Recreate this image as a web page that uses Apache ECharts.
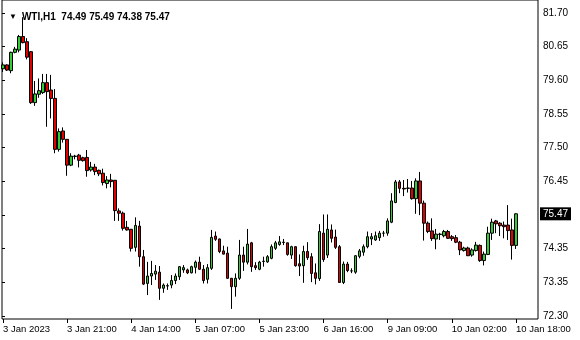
<!DOCTYPE html>
<html><head><meta charset="utf-8">
<script src="https://cdn.jsdelivr.net/npm/echarts@6/dist/echarts.min.js"></script>
<style>html,body{margin:0;padding:0;background:#fff}#c{width:580px;height:340px}</style>
</head><body><div id="c"></div>
<script>
const symbolName = 'WTI,H1';
const opens = [79.97,80.09,79.91,80.48,80.55,80.97,80.81,80.50,78.92,79.18,79.23,79.54,79.31,79.05,77.47,78.04,77.78,76.98,77.26,77.29,77.21,77.22,76.83,76.92,76.82,76.73,76.41,76.52,76.51,75.56,75.49,75.05,74.99,74.43,75.09,74.14,73.31,73.54,73.60,73.66,73.16,73.23,73.26,73.40,73.52,73.73,73.73,73.64,73.81,73.97,73.75,73.44,73.78,74.78,74.69,74.32,74.25,73.47,73.21,73.47,74.19,73.97,74.57,73.86,73.75,73.99,73.98,74.09,74.40,74.52,74.58,74.57,74.19,74.45,73.92,73.86,74.30,74.14,73.64,73.46,74.87,74.19,74.97,74.75,74.45,73.34,73.91,73.70,73.66,74.15,74.28,74.45,74.69,74.66,74.73,74.87,74.87,75.21,75.82,76.46,76.26,76.26,76.27,75.94,76.49,75.80,75.18,74.94,74.69,74.83,74.79,74.92,74.76,74.73,74.59,74.33,74.41,74.19,74.33,74.49,74.02,74.21,74.87,75.25,75.18,75.12,75.12,74.97,74.49];
const highs = [80.17,80.11,80.50,80.65,81.02,81.57,80.92,80.52,79.59,79.67,79.81,79.81,79.78,79.34,78.12,78.15,77.79,77.35,77.30,77.33,77.24,77.45,77.08,77.02,76.84,76.87,76.64,76.71,76.52,75.64,75.54,75.25,75.00,75.36,75.25,74.35,73.98,74.01,73.88,73.85,73.31,73.31,73.57,73.62,73.85,73.88,73.77,73.86,74.02,74.14,73.88,73.91,74.97,74.92,74.70,74.48,74.45,73.48,73.62,74.66,74.45,75.00,74.60,73.97,74.01,74.14,74.19,74.52,74.63,74.78,74.69,74.58,74.48,74.46,74.21,74.48,74.59,74.25,73.93,75.15,75.45,75.45,75.14,74.98,74.50,73.99,73.98,73.78,74.19,74.38,74.52,74.92,74.87,74.92,74.94,74.94,75.33,76.11,76.52,76.52,76.52,76.55,76.49,76.57,76.77,75.88,75.23,75.33,75.00,74.88,74.97,74.97,74.81,74.81,74.63,74.45,74.45,74.40,74.60,74.52,74.30,75.07,75.32,75.28,75.21,75.23,75.74,75.32,75.49];
const lows = [79.87,79.90,79.83,80.45,80.48,80.76,80.26,78.88,78.82,79.07,79.19,78.17,78.43,77.35,77.40,77.68,76.65,76.95,77.16,76.91,77.09,76.62,76.78,76.67,76.64,76.35,76.26,76.29,75.25,75.25,74.95,74.95,74.30,74.30,73.83,73.26,72.95,73.26,73.42,72.80,73.02,73.11,73.16,73.29,73.42,73.64,73.60,73.62,73.62,73.73,73.31,73.31,73.73,74.63,74.25,74.21,73.45,72.52,72.90,73.42,73.70,73.90,73.67,73.73,73.72,73.83,73.95,74.06,74.35,74.48,74.50,74.17,74.07,73.83,73.54,73.33,74.04,73.35,73.28,73.39,73.98,74.10,74.58,74.38,73.33,73.29,73.66,73.63,73.61,74.09,74.17,74.40,74.50,74.63,74.63,74.76,74.79,75.18,75.80,76.11,76.02,76.13,75.91,75.47,75.43,74.64,74.87,74.63,74.37,74.66,74.74,74.69,74.63,74.56,74.19,74.30,74.16,74.14,74.30,73.98,73.87,74.19,74.66,74.87,74.78,74.71,74.66,74.05,74.38];
const closes = [80.09,79.93,80.48,80.58,80.97,80.78,80.33,78.92,79.19,79.29,79.54,79.26,79.05,77.47,78.02,77.78,76.98,77.26,77.25,77.13,77.12,76.81,76.92,76.78,76.71,76.44,76.52,76.47,75.57,75.49,75.02,74.97,74.40,75.11,74.14,73.29,73.54,73.62,73.69,73.16,73.26,73.24,73.40,73.54,73.83,73.80,73.64,73.83,73.97,73.75,73.40,73.80,74.74,74.68,74.30,74.22,73.47,73.21,73.47,74.19,73.97,74.53,73.83,73.80,73.97,74.00,74.14,74.45,74.57,74.60,74.59,74.21,74.45,73.86,73.85,74.30,74.11,73.62,73.47,74.92,74.05,74.99,74.71,74.43,73.34,73.91,73.71,73.70,74.17,74.32,74.45,74.76,74.76,74.79,74.87,74.87,75.25,75.87,76.46,76.26,76.24,76.27,75.94,76.49,75.80,75.18,74.92,74.70,74.84,74.84,74.92,74.71,74.70,74.59,74.35,74.41,74.17,74.35,74.50,74.02,74.22,74.87,75.21,75.16,75.10,75.07,74.95,74.49,75.47];
const xLabelIdx = [0,16,32,48,64,80,96,112,128];
const xLabels = ['3 Jan 2023','3 Jan 21:00','4 Jan 14:00','5 Jan 07:00','5 Jan 23:00','6 Jan 16:00','9 Jan 09:00','10 Jan 02:00','10 Jan 18:00'];
const yTickLabels = ['72.30','73.35','74.35','','76.45','77.50','78.55','79.60','80.65','81.70'];
const yMin = 72.30, yMax = 81.70;
const padBars = 5;

const nBars = opens.length;
const cats = [];
for (let i = 0; i < nBars + padBars; i++) cats.push(String(i));
const candleData = opens.map((o, i) => [o, closes[i], lows[i], highs[i]]);
const last = nBars - 1;
const head = symbolName + '  ' + [opens[last], highs[last], lows[last], closes[last]].map(v => v.toFixed(2)).join(' ');
const FONT = 'Liberation Sans';

const chart = echarts.init(document.getElementById('c'), null, {renderer: 'canvas'});
chart.setOption({
  animation: false,
  backgroundColor: '#ffffff',
  textStyle: {fontFamily: FONT},
  title: {
    left: 4, top: 3,
    text: '{tri|▼} {t|' + head + '}',
    textStyle: {rich: {
      tri: {fontSize: 8, color: '#000', fontFamily: FONT},
      t: {fontSize: 10, color: '#000', fontFamily: FONT}
    }}
  },
  grid: [
    {left: 1, right: 42, top: 13, bottom: 24},
    {left: 2, right: 42, top: -1, bottom: 21, show: true, borderColor: '#000', borderWidth: 1, backgroundColor: 'transparent'},
    {left: 2, right: 42, top: 13, bottom: 24}
  ],
  xAxis: [
    {type: 'category', gridIndex: 0, data: cats, boundaryGap: true, offset: 3,
     axisLine: {show: false},
     axisTick: {show: true, alignWithLabel: true, length: 4, interval: (i) => xLabelIdx.includes(i), lineStyle: {color: '#000'}},
     axisLabel: {interval: (i) => xLabelIdx.includes(i), formatter: (v, i) => { const k = xLabelIdx.indexOf(i); return k >= 0 ? xLabels[k] : ''; },
                 align: 'left', margin: 5, color: '#000', fontSize: 9.5, fontFamily: FONT},
     splitLine: {show: false}},
    {type: 'value', gridIndex: 1, show: false, min: 0, max: 1},
    {type: 'value', gridIndex: 2, show: false, min: 0, max: 1}
  ],
  yAxis: [
    {type: 'value', gridIndex: 0, min: yMin, max: yMax, show: false},
    {type: 'value', gridIndex: 1, show: false, min: 0, max: 1},
    {type: 'value', gridIndex: 2, position: 'right', min: 0, max: yTickLabels.length - 1, interval: 1,
     axisLine: {show: false}, axisTick: {show: true, length: 3, lineStyle: {color: '#000'}},
     splitLine: {show: false},
     axisLabel: {formatter: (v) => yTickLabels[Math.round(v)] || '', margin: 5, color: '#000', fontSize: 10, fontFamily: FONT}}
  ],
  series: [{
    type: 'candlestick', xAxisIndex: 0, yAxisIndex: 0, data: candleData, barWidth: 3,
    itemStyle: {color: '#32cd32', color0: '#e00000', borderColor: '#000', borderColor0: '#000', borderWidth: 1},
    markLine: {
      silent: true, symbol: ['none', 'none'], animation: false,
      lineStyle: {color: 'rgba(0,0,0,0)', width: 0},
      label: {show: true, position: 'end', distance: 2, formatter: (p) => Number(p.value).toFixed(2),
              color: '#fff', backgroundColor: '#000', padding: [2, 3, 1, 3], fontSize: 10, fontFamily: FONT},
      data: [{yAxis: closes[last]}]
    }
  }]
});
</script></body></html>
